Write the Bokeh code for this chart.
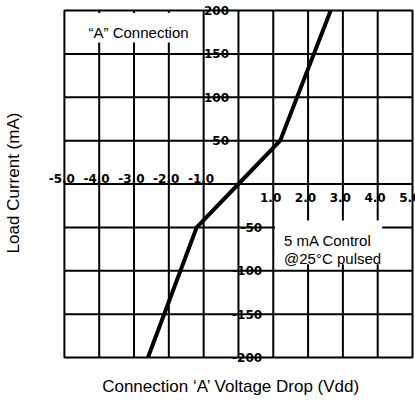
from bokeh.plotting import figure
from bokeh.models import FixedTicker, LinearAxis, Range1d
from bokeh.core.properties import value
from bokeh.embed import file_html
from bokeh.resources import INLINE

# ---- data ----
voltage = [-2.6, -1.2, 0.0, 1.2, 2.65]
current = [-200, -50, 0, 50, 200]

x_ticks = [-5, -4, -3, -2, -1, 1, 2, 3, 4, 5]
x_tick_labels = ["-5.0", "-4.0", "-3.0", "-2.0", "-1.0", "1.0", "2.0", "3.0", "4.0", "5.0"]
y_ticks = [200, 150, 100, 50, -50, -100, -150, -200]
y_tick_labels = ["200", "150", "100", "50", "-50", "-100", "-150", "-200"]

x_min, x_max = -5, 5
y_min, y_max = -200, 200
grid_x = [-4, -3, -2, -1, 0, 1, 2, 3, 4]
grid_y = [-150, -100, -50, 0, 50, 100, 150]

x_title = "Connection \u2018A\u2019 Voltage Drop (Vdd)"
y_title = "Load Current (mA)"
note_a = "\u201cA\u201d Connection"
note_b = ["5 mA Control", "@25\u00b0C pulsed"]

# plotting area is slightly larger than the chart box so that tick labels are not clipped
p = figure(width=415, height=401,
           x_range=Range1d(x_min - 0.514, x_max + 0.086),
           y_range=Range1d(y_min - 9.22, y_max + 11.53),
           output_backend="svg", toolbar_location=None,
           x_axis_type=None, y_axis_type=None,
           min_border_left=44, min_border_right=0, min_border_top=0, min_border_bottom=36)
p.outline_line_color = None
p.background_fill_color = "white"
p.border_fill_color = "white"

def title_axis(label, standoff):
    return LinearAxis(ticker=FixedTicker(ticks=[]), axis_label=label,
                      axis_line_color=None, major_tick_line_color=None,
                      minor_tick_line_color=None, major_tick_out=0, major_tick_in=0,
                      major_label_standoff=0, major_label_text_font_size="0px",
                      axis_label_standoff=standoff,
                      axis_label_text_font="Liberation Sans",
                      axis_label_text_font_style="normal",
                      axis_label_text_font_size="17px",
                      axis_label_text_color="black")

p.add_layout(title_axis(x_title, 11), "below")
p.add_layout(title_axis(y_title, 24), "left")

# grid lines
p.segment(x0=grid_x, x1=grid_x, y0=[y_min] * len(grid_x), y1=[y_max] * len(grid_x),
          line_color="black", line_width=2)
p.segment(x0=[x_min] * len(grid_y), x1=[x_max] * len(grid_y), y0=grid_y, y1=grid_y,
          line_color="black", line_width=2)

# white boxes behind notes
p.quad(left=[-4.7], right=[-1.2], bottom=[163], top=[197], fill_color="white", line_color=None)
p.quad(left=[1.05], right=[4.13], bottom=[-92.5], top=[-42], fill_color="white", line_color=None)

# chart box
p.quad(left=[x_min], right=[x_max], bottom=[y_min], top=[y_max],
       fill_color=None, line_color="black", line_width=2)

# curve
p.line(voltage, current, line_color="black", line_width=4)

# tick labels
lab_font = dict(text_font=value("DejaVu Sans"), text_font_style="bold",
                text_font_size="12px", text_color="black")
neg_x = [(t, l) for t, l in zip(x_ticks, x_tick_labels) if t < 0]
pos_x = [(t, l) for t, l in zip(x_ticks, x_tick_labels) if t > 0]
p.text(x=[t - 0.075 for t, _ in neg_x], y=[6] * len(neg_x), text=[l for _, l in neg_x],
       text_align="center", text_baseline="alphabetic", **lab_font)
p.text(x=[t - 0.075 for t, _ in pos_x], y=[-15.6] * len(pos_x), text=[l for _, l in pos_x],
       text_align="center", text_baseline="alphabetic", **lab_font)
pos_y = [(t, l) for t, l in zip(y_ticks, y_tick_labels) if t > 0]
neg_y = [(t, l) for t, l in zip(y_ticks, y_tick_labels) if t < 0]
p.text(x=[-0.27] * len(pos_y), y=[t for t, _ in pos_y], text=[l for _, l in pos_y],
       text_align="right", text_baseline="middle", **lab_font)
p.text(x=[0.68] * len(neg_y), y=[t for t, _ in neg_y], text=[l for _, l in neg_y],
       text_align="right", text_baseline="middle", **lab_font)

# notes
note_font = dict(text_font=value("Liberation Sans"), text_font_size="15px", text_color="black")
p.text(x=[-2.87], y=[175], text=[note_a], text_align="center", text_baseline="alphabetic", **note_font)
p.text(x=[1.31, 1.31], y=[-65, -86], text=note_b, text_align="left", text_baseline="alphabetic", **note_font)

open("out.html", "w").write(file_html(p, INLINE))
